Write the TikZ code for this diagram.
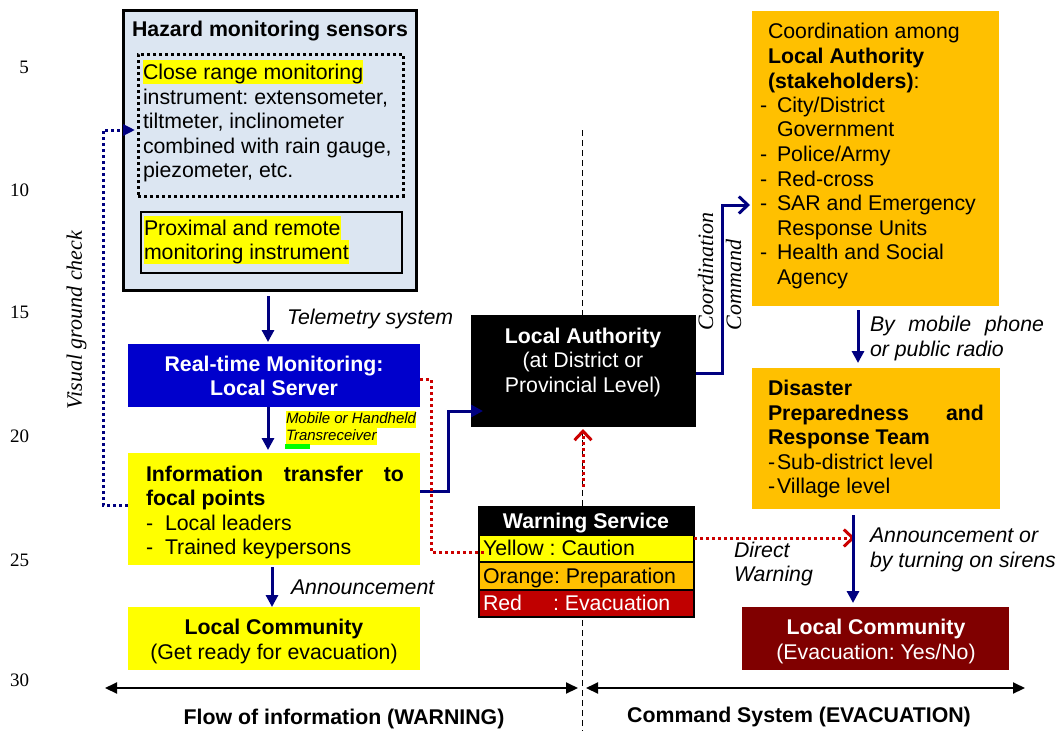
\documentclass[tikz,border=0pt]{standalone}
\usepackage{fontspec}
\setmainfont{Liberation Sans}
\newfontfamily\seriffam{Liberation Serif}
\usetikzlibrary{arrows.meta,fit}
\definecolor{hazblue}{HTML}{DCE6F2}
\definecolor{navyc}{HTML}{000080}
\definecolor{srvblue}{HTML}{0000CC}
\definecolor{hlyellow}{HTML}{FFFF00}
\definecolor{orng}{HTML}{FFC000}
\definecolor{wred}{HTML}{C00000}
\definecolor{dred}{HTML}{800000}
\definecolor{rdotc}{HTML}{CC0000}
\definecolor{hlgreen}{HTML}{00FF00}
\frenchspacing
\begin{document}
\begin{tikzpicture}[x=1pt,y=-1pt,
  every node/.style={inner sep=0pt, outer sep=0pt, font=\fontsize{21.3}{24.5}\selectfont},
  box/.style={inner sep=0pt, outer sep=0pt},
  tl/.style={anchor=base west},
  tr/.style={anchor=base east},
  tc/.style={anchor=base},
  bf/.style={font=\fontsize{21.3}{24.5}\selectfont\bfseries},
  hl/.style={fill=hlyellow, text height=20pt, text depth=4.5pt},
  smallhl/.style={fill=hlyellow, text height=13pt, text depth=4pt, font=\fontsize{15}{17}\selectfont\itshape},
  lab/.style={anchor=base west, font=\fontsize{21.3}{24.5}\selectfont\itshape},
  wt/.style={text=white},
  serifnum/.style={anchor=base east, font=\fontsize{19}{22}\selectfont\seriffam},
  vlab/.style={rotate=90, font=\fontsize{22}{26}\selectfont\seriffam\itshape},
  narr/.style={draw=navyc, line width=3pt, -{Triangle[length=12pt,width=12pt]}},
  nopen/.style={draw=navyc, line width=3pt, -{Straight Barb[length=9pt,width=17pt]}},
  ndot/.style={draw=navyc, line width=3pt, dash pattern=on 3pt off 3pt, -{Triangle[length=12pt,width=11pt]}},
  rdot/.style={draw=rdotc, line width=3pt, dash pattern=on 3pt off 3pt},
  rarr/.style={rdot, -{Straight Barb[length=9pt,width=17pt]}},
  barr/.style={draw=black, line width=2pt, {Triangle[length=12pt,width=11pt]}-{Triangle[length=12pt,width=11pt]}},
  tbl/.style={box, draw=black, line width=1.2pt}
]
\useasboundingbox (0,0) rectangle (1059,731);
\fill[white] (0,0) rectangle (1059,731);

% centre divider
\coordinate (dvtop) at (582,130);
\coordinate (dvbot) at (582,731);
\draw[line width=1pt, dash pattern=on 6pt off 4pt] (dvtop) -- (dvbot);

% line numbers
\node[serifnum] (n5) at (29,73.5) {5};
\node[serifnum] (n10) at (29,196.5) {10};
\node[serifnum] (n15) at (29,318.5) {15};
\node[serifnum] (n20) at (29,442.5) {20};
\node[serifnum] (n25) at (29,566.5) {25};
\node[serifnum] (n30) at (29,686.5) {30};

% ---------- left column boxes ----------
\node[box, fill=hazblue, draw=black, line width=3pt, fit={(123,10) (416,290)}] (haz) {};
\node[box, draw=black, line width=3pt, dash pattern=on 3pt off 3pt, fit={(138,54) (403,196)}] (dotb) {};
\node[box, fill=hazblue, draw=black, line width=1.5pt, fit={(141,212) (402,273)}] (prox) {};
\node[box, fill=srvblue, fit={(128,344) (420,407)}] (srv) {};
\node[box, fill=hlyellow, fit={(128,453) (420,565)}] (info) {};
\node[box, fill=hlyellow, fit={(128,607) (420,670)}] (lcom) {};

% texts hazard
\node[tc, bf] (hazt) at (270,36.5) {Hazard monitoring sensors};
\node[tl, hl] (cr1) at (143,79.5) {Close range monitoring};
\node[tl] (cr2) at (143,104.5) {instrument: extensometer,};
\node[tl] (cr3) at (143,128.5) {tiltmeter, inclinometer};
\node[tl] (cr4) at (143,153.5) {combined with rain gauge,};
\node[tl] (cr5) at (143,177.5) {piezometer, etc.};
\node[tl, hl] (pr1) at (144,235.5) {Proximal and remote};
\node[tl, hl] (pr2) at (144,259.5) {monitoring instrument};

% server
\node[tc, wt, bf] (srv1) at (274,371.5) {Real-time Monitoring:};
\node[tc, wt, bf] (srv2) at (274,395.5) {Local Server};

% mobile label
\node[tl, smallhl] (mob1) at (286,423.5) {Mobile or Handheld};
\node[tl, smallhl] (mob2) at (286,440.5) {Transreceiver};
\node[box, fill=hlgreen, fit={(285,443.5) (310,448.5)}] (gbar) {};

% info
\node[tl, bf] (inf1) at (146,481.5) {\makebox[258pt][s]{Information transfer to}};
\node[tl, bf] (inf2) at (146,505.5) {focal points};
\node[tl] (infd1) at (146,530.5) {-};
\node[tl] (inf3) at (165,530.5) {Local leaders};
\node[tl] (infd2) at (146,554.5) {-};
\node[tl] (inf4) at (165,554.5) {Trained keypersons};

% local community left
\node[tc, bf] (lc1) at (274,634.5) {Local Community};
\node[tc] (lc2) at (274,659.5) {(Get ready for evacuation)};

% labels
\node[lab] (tele) at (287,324.5) {Telemetry system};
\node[lab] (ann) at (291,594.5) {Announcement};
\node[vlab] (vgc) at (76.5,320) {Visual ground check};

% ---------- centre ----------
\node[box, fill=black, fit={(471,315) (696,427)}] (la) {};
\node[tc, wt, bf] (la1) at (583,343.5) {Local Authority};
\node[tc, wt] (la2) at (583,367.5) {(at District or};
\node[tc, wt] (la3) at (583,392.5) {Provincial Level)};

\node[tbl, fill=black, fit={(479,507) (694,535)}] (wsh) {};
\node[tbl, fill=hlyellow, fit={(479,535) (694,562)}] (wsy) {};
\node[tbl, fill=orng, fit={(479,562) (694,590)}] (wso) {};
\node[tbl, fill=wred, fit={(479,590) (694,617)}] (wsr) {};
\node[tc, wt, bf] (wsht) at (586,528.5) {Warning Service};
\node[tl] (wsyt) at (483,555.5) {Yellow : Caution};
\node[tl] (wsot) at (483,583.5) {Orange: Preparation};
\node[tl, wt] (wsrt1) at (483,610.5) {Red};
\node[tl, wt] (wsrt2) at (553,610.5) {: Evacuation};

\node[lab] (dw1) at (734,557.5) {Direct};
\node[lab] (dw2) at (734,581.5) {Warning};

% ---------- right column ----------
\node[box, fill=orng, fit={(752,11) (999,306)}] (coord) {};
\node[tl] (co1) at (768,38.5) {Coordination among};
\node[tl, bf] (co2) at (768,63.5) {Local Authority};
\node[tl] (co3) at (768,88.5) {\textbf{(stakeholders)}:};
\node[tl] (cod1) at (760,112.5) {-};
\node[tl] (co4) at (777,112.5) {City/District};
\node[tl] (co5) at (777,136.5) {Government};
\node[tl] (cod2) at (760,161.5) {-};
\node[tl] (co6) at (777,161.5) {Police/Army};
\node[tl] (cod3) at (760,186.5) {-};
\node[tl] (co7) at (777,186.5) {Red-cross};
\node[tl] (cod4) at (760,210.5) {-};
\node[tl] (co8) at (777,210.5) {SAR and Emergency};
\node[tl] (co9) at (777,235.5) {Response Units};
\node[tl] (cod5) at (760,259.5) {-};
\node[tl] (co10) at (777,259.5) {Health and Social};
\node[tl] (co11) at (777,284.5) {Agency};

\node[anchor=base west, rotate=90, font=\fontsize{22}{26}\selectfont\seriffam\itshape] (vcoord) at (713,330) {Coordination};
\node[anchor=base west, rotate=90, font=\fontsize{22}{26}\selectfont\seriffam\itshape] (vcomm) at (741,330) {Command};

\node[lab] (bm1) at (870,331.5) {\makebox[174pt][s]{By mobile phone}};
\node[lab] (bm2) at (870,356.5) {or public radio};

\node[box, fill=orng, fit={(752,368) (1000,509)}] (dis) {};
\node[tl, bf] (ds1) at (768,395.5) {Disaster};
\node[tl, bf] (ds2) at (768,420.5) {\makebox[216pt][s]{Preparedness and}};
\node[tl, bf] (ds3) at (768,444.5) {Response Team};
\node[tl] (dsd1) at (768,469.5) {-};
\node[tl] (ds4) at (777,469.5) {Sub-district level};
\node[tl] (dsd2) at (768,493.5) {-};
\node[tl] (ds5) at (777,493.5) {Village level};

\node[lab] (as1) at (870,542.5) {Announcement or};
\node[lab] (as2) at (870,567.5) {by turning on sirens};

\node[box, fill=dred, fit={(742,607) (1009,670)}] (rcom) {};
\node[tc, wt, bf] (rc1) at (876,634.5) {Local Community};
\node[tc, wt] (rc2) at (876,659.5) {(Evacuation: Yes/No)};

% bottom labels
\node[tc, bf] (flow) at (344,724) {Flow of information (WARNING)};
\node[tc, bf] (cmds) at (799,722.5) {Command System (EVACUATION)};

% ---------- connectors ----------
\coordinate (x268) at (268,0);
\coordinate (x272) at (272,0);
\coordinate (x858) at (858,0);
\coordinate (x853) at (853,0);

\draw[narr, shorten <=6pt, shorten >=2pt] (haz.south -| x268) -- (srv.north -| x268);
\draw[narr, shorten >=3pt] (srv.south -| x268) -- (info.north -| x268);
\draw[narr, shorten <=2pt] (info.south -| x272) -- (lcom.north -| x272);

\coordinate (vg1) at (103,505);
\coordinate (vg2) at (103,130);
\draw[ndot, shorten >=3pt] (info.west |- vg1) -- (vg1) -- (vg2) -- (dotb.west |- vg2);

\coordinate (ib1) at (448,491);
\coordinate (ib2) at (448,411);
\draw[narr] (info.east |- ib1) -- (ib1) -- (ib2) -- ([xshift=12pt]la.west |- ib2);

\coordinate (r1) at (431,379);
\coordinate (r2) at (431,552);
\draw[rdot] (srv.east |- r1) -- (r1) -- (r2) -- ([xshift=6pt]wsy.west |- r2);

\coordinate (ru) at (583,487);
\draw[rarr, shorten >=2pt] (ru) -- (la.south -| ru);

\coordinate (rd2) at (855,538);
\draw[rarr] (wsy.east |- rd2) -- (rd2);

\coordinate (ca1) at (722,373);
\coordinate (ca2) at (722,205);
\draw[nopen, shorten >=2pt] (la.east |- ca1) -- (ca1) -- (ca2) -- (coord.west |- ca2);

\draw[narr, shorten <=4pt, shorten >=5pt] (coord.south -| x858) -- (dis.north -| x858);
\draw[narr, shorten <=6pt, shorten >=4pt] (dis.south -| x853) -- (rcom.north -| x853);

\coordinate (ba1) at (105,688);
\coordinate (ba2) at (578,688);
\coordinate (ba3) at (586,688);
\coordinate (ba4) at (1025,688);
\draw[barr] (ba1) -- (ba2);
\draw[barr] (ba3) -- (ba4);
\end{tikzpicture}
\end{document}
